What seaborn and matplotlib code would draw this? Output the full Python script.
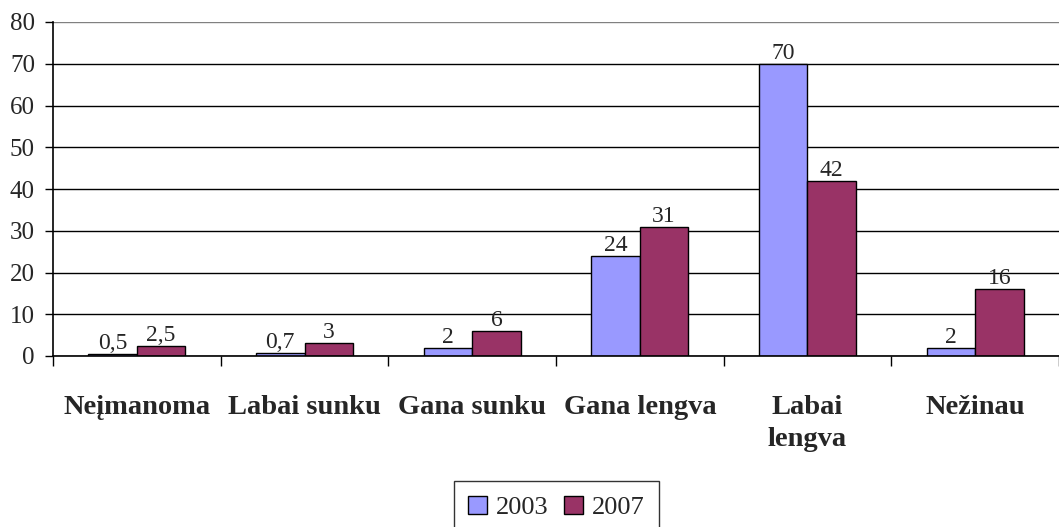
import matplotlib
matplotlib.use('Agg')
import matplotlib.pyplot as plt
import pandas as pd
import seaborn as sns

# Data
categories = ['Neįmanoma', 'Labai sunku', 'Gana sunku', 'Gana lengva', 'Labai\nlengva', 'Nežinau']
years = ['2003', '2007']
values_2003 = [0.5, 0.7, 2, 24, 70, 2]
values_2007 = [2.5, 3, 6, 31, 42, 16]

df = pd.DataFrame({
    'category': categories * 2,
    'year': [years[0]] * len(categories) + [years[1]] * len(categories),
    'value': values_2003 + values_2007,
})

sns.set_style('white')
plt.rcParams['font.family'] = ['Liberation Serif', 'DejaVu Serif']

fig = plt.figure(figsize=(10.59, 5.27), dpi=100)
ax = fig.add_axes([53 / 1059, 1 - 356 / 527, 1 - 53 / 1059, (356 - 22) / 527])

sns.barplot(data=df, x='category', y='value', hue='year', order=categories, hue_order=years,
            palette=['#9999FF', '#993366'], saturation=1, edgecolor='black', linewidth=1,
            width=0.58, gap=0, errorbar=None, ax=ax)

# data labels with comma decimals
def fmt(v):
    return str(v).replace('.', ',') if v != int(v) else str(int(v))

for cont, vals in zip(ax.containers, [values_2003, values_2007]):
    ax.bar_label(cont, labels=[fmt(v) for v in vals], padding=0, fontsize=17)

ax.set_ylim(0, 80)
ax.set_xlim(-0.5, len(categories) - 0.5)
ax.set_yticks(range(0, 81, 10))
ax.yaxis.grid(True, color='black', linewidth=1)
ax.get_ygridlines()[-1].set_color('#808080')
ax.set_axisbelow(True)

for side in ['top', 'right']:
    ax.spines[side].set_visible(False)
for side in ['left', 'bottom']:
    ax.spines[side].set_color('black')
    ax.spines[side].set_linewidth(1.2)

ax.tick_params(axis='y', left=True, length=6, width=1, color='black', labelsize=18, pad=7)
ax.set_xticks(range(len(categories)))
ax.set_xticklabels(categories, fontweight='bold', fontsize=20.5, linespacing=1.4)
ax.tick_params(axis='x', which='major', length=0, pad=28)
ax.set_xticks([i - 0.5 for i in range(len(categories) + 1)], minor=True)
ax.tick_params(axis='x', which='minor', bottom=True, length=7, width=1, color='black')

ax.set_xlabel('')
ax.set_ylabel('')

ax.get_legend().remove()
handles, labels = ax.get_legend_handles_labels()
leg = fig.legend(handles, labels, loc='upper center', bbox_to_anchor=(0.5255, 1 - 481 / 527),
                 ncol=2, frameon=True, fancybox=False, edgecolor='black', fontsize=19,
                 handlelength=0.7, handleheight=0.7, handletextpad=0.35, columnspacing=0.6,
                 borderpad=0.55, borderaxespad=0)
leg.get_frame().set_linewidth(1)

fig.savefig('out.png', dpi=100)
